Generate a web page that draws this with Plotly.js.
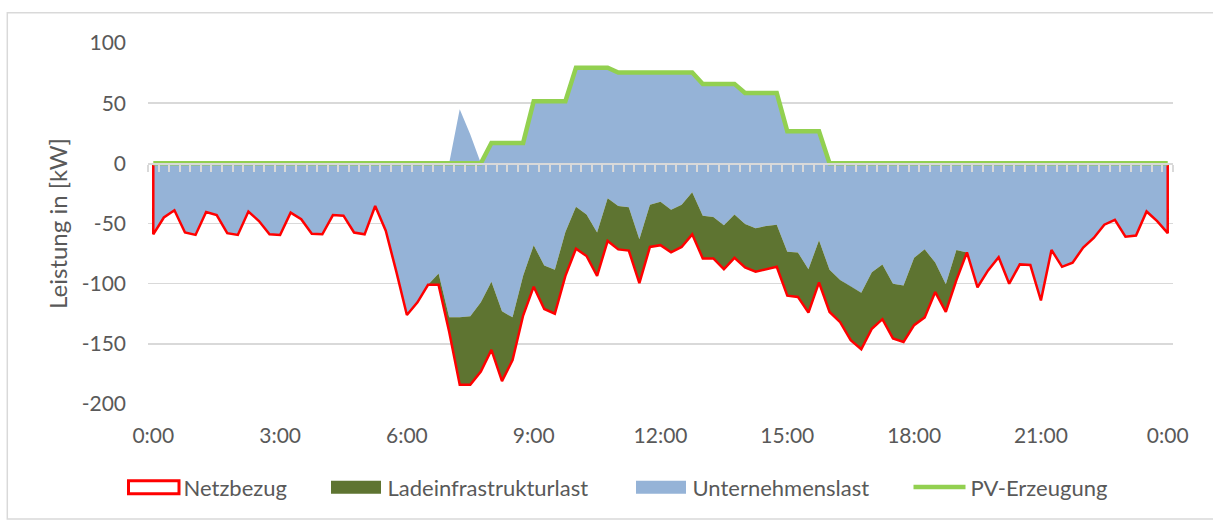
<!DOCTYPE html>
<html>
<head>
<meta charset="utf-8">
<script src="https://cdn.plot.ly/plotly-3.0.1.min.js"></script>
<style>html,body{margin:0;padding:0;background:#fff;}</style>
</head>
<body>
<div id="chart" style="width:1213px;height:520px;"></div>
<script>
// Tageslastgang in 15-Minuten-Schritten (0:00 bis 24:00, 97 Werte)
const netzbezug = [
  -59, -45, -39, -57.5, -59.5, -40.5, -43, -58, -59.5, -40, -48, -59, -59.5, -41, -46.5, -58.5,
  -59, -43, -43.5, -57.5, -59, -35.5, -56, -90, -126, -115.5, -101, -101, -140, -184, -184, -173,
  -155, -181, -163.5, -126.5, -102.5, -121, -125, -93.5, -71, -77, -93.5, -64.5, -71.5, -72.5, -99.5, -69.5,
  -68, -74, -69.5, -59, -79, -79, -88, -78.5, -86.5, -90, -88, -86, -110, -111, -124, -99,
  -123.5, -132, -147, -154.5, -137.5, -129.5, -145.5, -148.5, -134.5, -128, -107, -123.5, -97, -74, -103, -89,
  -78, -100, -84, -84.5, -114, -72, -86, -82.5, -70, -62, -51, -47, -61, -60, -40, -48, -58
];
// Untere Grenze der Unternehmenslast (darunter: Ladeinfrastrukturlast)
const unternehmenslast = [
  -59, -45, -39, -57.5, -59.5, -40.5, -43, -58, -59.5, -40, -48, -59, -59.5, -41, -46.5, -58.5,
  -59, -43, -43.5, -57.5, -59, -35.5, -56, -90, -126, -115.5, -101, -91.5, -128, -128, -127, -115.5,
  -98.5, -123, -128, -93.5, -68, -85, -88.5, -57, -36, -42.5, -57.5, -29, -35.5, -36.5, -63, -34.5,
  -32, -38.5, -34.5, -24, -43.5, -44.5, -51.5, -42.5, -50.5, -54, -52, -51, -73.5, -74, -88, -64,
  -88.5, -97, -102.5, -107.5, -90.5, -84, -100, -101.5, -78.5, -71.5, -82.5, -100.5, -72, -74, -103, -89,
  -78, -100, -84, -84.5, -114, -72, -86, -82.5, -70, -62, -51, -47, -61, -60, -40, -48, -58
];
const pvErzeugung = [
  0, 0, 0, 0, 0, 0, 0, 0, 0, 0, 0, 0, 0, 0, 0, 0,
  0, 0, 0, 0, 0, 0, 0, 0, 0, 0, 0, 0, 0, 0, 0, 0,
  17, 17, 17, 17, 51.6, 51.6, 51.6, 51.6, 79.5, 79.5, 79.5, 79.5, 75.5, 75.5, 75.5, 75.5,
  75.5, 75.5, 75.5, 75.5, 66, 66, 66, 66, 58.5, 58.5, 58.5, 58.5, 26.6, 26.6, 26.6, 26.6,
  0, 0, 0, 0, 0, 0, 0, 0, 0, 0, 0, 0, 0, 0, 0, 0,
  0, 0, 0, 0, 0, 0, 0, 0, 0, 0, 0, 0, 0, 0, 0, 0, 0
];
// Positive Spitze der Unternehmenslast-Fläche (ohne PV)
const lastSpitze = [
  0, 0, 0, 0, 0, 0, 0, 0, 0, 0, 0, 0, 0, 0, 0, 0,
  0, 0, 0, 0, 0, 0, 0, 0, 0, 0, 0, 0, 0, 45, 24, 0,
  0, 0, 0, 0, 0, 0, 0, 0, 0, 0, 0, 0, 0, 0, 0, 0,
  0, 0, 0, 0, 0, 0, 0, 0, 0, 0, 0, 0, 0, 0, 0, 0,
  0, 0, 0, 0, 0, 0, 0, 0, 0, 0, 0, 0, 0, 0, 0, 0,
  0, 0, 0, 0, 0, 0, 0, 0, 0, 0, 0, 0, 0, 0, 0, 0, 0
];
const tickStunden = [0, 3, 6, 9, 12, 15, 18, 21, 24];
const tickLabels = ['0:00', '3:00', '6:00', '9:00', '12:00', '15:00', '18:00', '21:00', '0:00'];
const yTicks = [-200, -150, -100, -50, 0, 50, 100];
const yTickLabels = ['-200', '-150', '-100', '-50', '0', '50', '100'];

const stunden = netzbezug.map((_, i) => i * 0.25);
const blauOben = pvErzeugung.map((v, i) => Math.max(v, lastSpitze[i]));
const rev = a => a.slice().reverse();

const font = 'Lato, Carlito, "Liberation Sans", sans-serif';
const grau = '#595959';
const farbeBlau = '#95B3D7', farbeOliv = '#5E7431', farbeRot = '#FF0000', farbePV = '#92D050';
const pw = 1025, ph = 364, ml = 148, mt = 43;
const px2x = p => (p - ml) / pw;
const px2y = p => (mt + ph - p) / ph;

// Legendeneintrag ohne eigenes Symbol (Symbol als Rechteck, s. shapes)
const legendEntry = (name, legend) => ({
  name: name, legend: legend, x: [stunden[0]], y: [0],
  mode: 'lines', fill: 'toself', fillcolor: 'rgba(255,255,255,0)',
  line: {width: 0, color: 'rgba(255,255,255,0)'}, hoverinfo: 'skip'
});

const traces = [
  { // Unternehmenslast
    name: 'Unternehmenslast', showlegend: false,
    x: stunden.concat(rev(stunden)),
    y: blauOben.concat(rev(unternehmenslast)),
    mode: 'lines', fill: 'toself', fillcolor: farbeBlau,
    line: {width: 0, color: farbeBlau}, hoverinfo: 'skip'
  },
  { // Ladeinfrastrukturlast
    name: 'Ladeinfrastrukturlast', showlegend: false,
    x: stunden.concat(rev(stunden)),
    y: unternehmenslast.concat(rev(netzbezug)),
    mode: 'lines', fill: 'toself', fillcolor: farbeOliv,
    line: {width: 0, color: farbeOliv}, hoverinfo: 'skip'
  },
  { // Netzbezug (Fläche ohne Füllung, roter Rand)
    name: 'Netzbezug', showlegend: false,
    x: [stunden[0]].concat(stunden, [stunden[stunden.length - 1]]),
    y: [0].concat(netzbezug, [0]),
    mode: 'lines', line: {width: 2.5, color: farbeRot}
  },
  { // PV-Erzeugung
    name: 'PV-Erzeugung', legend: 'legend4',
    x: stunden, y: pvErzeugung, xaxis: 'x2',
    mode: 'lines', line: {width: 4.5, color: farbePV}
  },
  legendEntry('Netzbezug', 'legend'),
  legendEntry('Ladeinfrastrukturlast', 'legend2'),
  legendEntry('Unternehmenslast', 'legend3')
];

const legendBase = {
  orientation: 'h', xanchor: 'left', y: px2y(491), yanchor: 'middle',
  font: {size: 22, color: grau}, itemwidth: 52,
  bgcolor: 'rgba(0,0,0,0)', itemclick: false, itemdoubleclick: false
};

const symbolRect = (x0, x1, fill, lineColor, lw) => ({
  type: 'rect', xref: 'paper', yref: 'paper',
  x0: px2x(x0), x1: px2x(x1), y0: px2y(497.5), y1: px2y(484.5),
  line: {color: lineColor, width: lw}, fillcolor: fill, layer: 'above'
});

const layout = {
  width: 1213, height: 520,
  margin: {l: ml, r: 1213 - ml - pw, t: mt, b: 520 - mt - ph, pad: 0},
  paper_bgcolor: '#ffffff', plot_bgcolor: '#ffffff',
  font: {family: font, color: grau, size: 21},
  showlegend: true,
  xaxis: {
    range: [-0.125, 24.125], tickvals: tickStunden, ticktext: tickLabels,
    showgrid: false, zeroline: false, showline: false, ticks: '',
    tickfont: {size: 21, color: grau}, ticklabelstandoff: 17, fixedrange: true
  },
  xaxis2: {
    overlaying: 'x', matches: 'x', anchor: 'free', position: 200 / 300,
    tick0: -0.125, dtick: 0.25, ticks: 'outside', ticklen: 7, tickwidth: 2,
    tickcolor: '#D9D9D9', showticklabels: false, showline: true,
    linecolor: '#D9D9D9', linewidth: 1.5, showgrid: false, zeroline: false
  },
  yaxis: {
    range: [-200, 100], tickvals: yTicks, ticktext: yTickLabels,
    showgrid: true, gridcolor: '#D9D9D9', gridwidth: 1.5,
    zeroline: false, showline: false, ticks: '',
    tickfont: {size: 21, color: grau}, ticklabelstandoff: 21, fixedrange: true,
    title: {text: 'Leistung in [kW]', font: {size: 24, color: grau}, standoff: 7}
  },
  legend: Object.assign({}, legendBase, {x: px2x(121.5)}),
  legend2: Object.assign({}, legendBase, {x: px2x(325.5)}),
  legend3: Object.assign({}, legendBase, {x: px2x(630.5)}),
  legend4: Object.assign({}, legendBase, {x: px2x(908.5)}),
  shapes: [
    { // Diagrammrahmen
      type: 'rect', xref: 'paper', yref: 'paper',
      x0: px2x(7.3), x1: px2x(1216), y0: px2y(523), y1: px2y(12.5),
      line: {color: '#D9D9D9', width: 1.5}, fillcolor: 'rgba(0,0,0,0)', layer: 'below'
    },
    symbolRect(128.5, 179, 'rgba(255,255,255,0)', farbeRot, 3),
    symbolRect(331, 381, farbeOliv, farbeOliv, 0),
    symbolRect(636, 686, farbeBlau, farbeBlau, 0)
  ]
};

Plotly.newPlot('chart', traces, layout, {staticPlot: true, displayModeBar: false});
</script>
</body>
</html>
